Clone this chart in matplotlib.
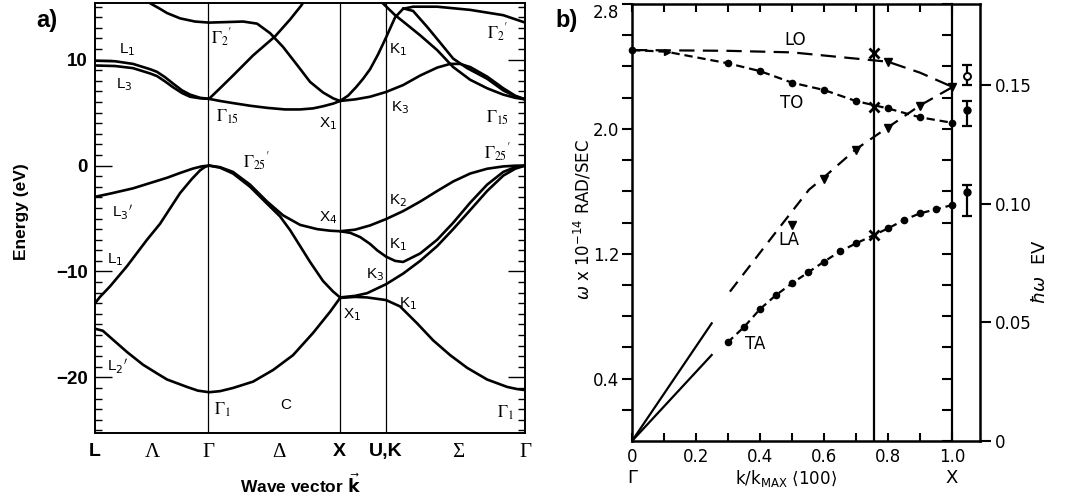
import numpy as np
import matplotlib
matplotlib.use("Agg")
import matplotlib.pyplot as plt
from matplotlib.ticker import MultipleLocator, FixedLocator, NullFormatter

plt.rcParams["lines.scale_dashes"] = False

# ------------------------------------------------------------------
# (a) Energy bands of diamond along L - Γ - X - U,K - Γ
#     k measured along the path in units of 2π/a
# ------------------------------------------------------------------
K_SYM = [0.0, 0.866, 1.866, 2.220, 3.281]            # L, Γ, X, U/K, Γ
K_TICKS = [0.0, 0.435, 0.866, 1.40, 1.866, 2.220, 2.77, 3.281]
K_TICK_LABELS = ["L", "Λ", "Γ", "Δ", "X", "U,K", "Σ", "Γ"]
E_RANGE = (-25.25, 15.35)

# valence bands
v1_k = [0.0, 0.060, 0.115, 0.244, 0.366, 0.470, 0.550, 0.702, 0.785, 0.870, 0.954, 1.053, 1.206,
        1.359, 1.511, 1.664, 1.794, 1.870, 1.985, 2.076, 2.221, 2.328, 2.458, 2.580, 2.710, 2.840,
        2.992, 3.145, 3.220, 3.282]
v1_E = [-15.4, -15.6, -16.2, -17.6, -18.8, -19.6, -20.2, -20.9, -21.25, -21.4, -21.3, -21.0, -20.4,
        -19.3, -17.9, -15.8, -13.8, -12.5, -12.4, -12.45, -12.7, -13.3, -14.9, -16.5, -17.9, -19.1,
        -20.2, -20.9, -21.1, -21.2]

v2_k = [0.0, 0.038, 0.115, 0.244, 0.397, 0.496, 0.649, 0.740, 0.802, 0.840, 0.870]
v2_E = [-13.0, -12.4, -11.4, -9.5, -7.0, -5.5, -2.6, -1.25, -0.45, -0.12, 0.0]

v3_k = [0.0, 0.115, 0.290, 0.420, 0.550, 0.649, 0.748, 0.817, 0.870]
v3_E = [-2.95, -2.65, -2.15, -1.65, -1.15, -0.70, -0.28, -0.07, 0.0]

# Γ25' -> X4 -> K2 -> Γ25'
v4_k = [0.870, 0.954, 1.053, 1.183, 1.313, 1.435, 1.565, 1.695, 1.794, 1.870, 1.985, 2.099,
        2.221, 2.351, 2.481, 2.611, 2.733, 2.863, 2.992, 3.115, 3.206, 3.282]
v4_E = [0.0, -0.15, -0.6, -1.8, -3.4, -4.7, -5.6, -6.0, -6.15, -6.2, -6.05, -5.65,
        -5.05, -4.3, -3.4, -2.4, -1.5, -0.75, -0.3, -0.08, -0.01, 0.0]

# Γ25' -> X1 -> K3 -> Γ25'
v5_k = [0.870, 0.954, 1.053, 1.183, 1.313, 1.412, 1.489, 1.565, 1.641, 1.740, 1.817, 1.870,
        1.985, 2.076, 2.221, 2.351, 2.481, 2.611, 2.733, 2.863, 2.992, 3.115, 3.206, 3.282]
v5_E = [0.0, -0.2, -0.75, -2.0, -3.6, -4.8, -6.1, -7.6, -9.1, -10.9, -11.9, -12.45,
        -12.3, -12.05, -11.2, -10.2, -9.0, -7.6, -6.0, -4.2, -2.4, -0.95, -0.3, 0.0]

# X4 -> K1 -> Γ25'
v6_k = [1.870, 1.947, 2.023, 2.099, 2.153, 2.221, 2.290, 2.351, 2.481, 2.611, 2.733, 2.863,
        2.992, 3.115, 3.206, 3.282]
v6_E = [-6.2, -6.35, -6.75, -7.4, -8.0, -8.6, -9.0, -9.1, -8.3, -7.0, -5.4, -3.5,
        -1.8, -0.6, -0.15, 0.0]

# conduction bands
c1_k = [0.0, 0.153, 0.290, 0.420, 0.473, 0.534, 0.595, 0.664, 0.725, 0.802, 0.870]
c1_E = [9.9, 9.85, 9.6, 9.1, 8.85, 8.35, 7.75, 7.1, 6.7, 6.4, 6.3]
c2_E = [9.45, 9.4, 9.2, 8.7, 8.45, 7.95, 7.4, 6.85, 6.5, 6.35, 6.3]

# Γ2' band: from above along Λ, through Γ2', down to X1
c3_k = [0.400, 0.420, 0.496, 0.550, 0.649, 0.763, 0.870, 1.008, 1.130, 1.237, 1.336, 1.435,
        1.542, 1.641, 1.740, 1.817, 1.870]
c3_E = [15.7, 15.33, 14.8, 14.4, 13.9, 13.6, 13.5, 13.55, 13.6, 13.4, 12.5, 11.2,
        9.5, 7.9, 6.9, 6.35, 6.1]

# Γ15 -> X1 (lower) and the steep branch leaving Γ15 upwards
c4_k = [0.870, 0.954, 1.053, 1.183, 1.313, 1.450, 1.565, 1.664, 1.740, 1.817, 1.870]
c4_E = [6.3, 6.1, 5.9, 5.65, 5.45, 5.3, 5.3, 5.4, 5.6, 5.85, 6.1]
c5_k = [0.870, 0.954, 1.053, 1.206, 1.374, 1.489, 1.573, 1.611]
c5_E = [6.3, 7.3, 8.5, 10.4, 12.2, 13.8, 15.1, 15.8]

# X1 -> K3 -> Γ15
c6_k = [1.870, 1.985, 2.099, 2.221, 2.351, 2.481, 2.611, 2.710, 2.786, 2.863, 2.992, 3.115,
        3.206, 3.282]
c6_E = [6.1, 6.25, 6.5, 6.95, 7.6, 8.5, 9.25, 9.6, 9.6, 9.3, 8.4, 7.3, 6.6, 6.25]

# X1 -> K1 -> Γ2'
c7_k = [1.870, 1.931, 1.992, 2.046, 2.099, 2.160, 2.221, 2.290, 2.351, 2.427, 2.611, 2.863,
        3.115, 3.282]
c7_E = [6.1, 6.6, 7.4, 8.2, 9.1, 10.5, 12.1, 14.0, 14.8, 15.0, 15.0, 14.7, 14.2, 13.5]

# two upper Σ branches ending in Γ15
c8_k = [2.160, 2.198, 2.290, 2.351, 2.481, 2.611, 2.733, 2.863, 2.992, 3.115, 3.206, 3.282]
c8_E = [15.8, 15.3, 14.2, 13.6, 12.3, 10.9, 9.3, 8.1, 7.3, 6.7, 6.4, 6.25]
c9_k = [2.351, 2.427, 2.534, 2.634, 2.733, 2.840, 2.992, 3.115, 3.206, 3.282]
c9_E = [14.85, 14.6, 13.1, 11.6, 10.1, 9.2, 8.2, 7.1, 6.55, 6.25]

bands = [(v1_k, v1_E), (v2_k, v2_E), (v3_k, v3_E), (v4_k, v4_E), (v5_k, v5_E),
         (v6_k, v6_E), (c1_k, c1_E), (c1_k, c2_E), (c3_k, c3_E), (c4_k, c4_E),
         (c5_k, c5_E), (c6_k, c6_E), (c7_k, c7_E), (c8_k, c8_E), (c9_k, c9_E)]

# ------------------------------------------------------------------
# (b) Phonon dispersion of diamond along (100)
# ------------------------------------------------------------------
HBAR_EV_S = 6.582e-16
lin_k = [0.0, 0.249]
lin_upper = [0.0, 0.754]
lin_lower = [0.0, 0.551]

lo_k = [0.0, 0.3, 0.5, 0.7, 0.8, 0.9, 1.0]
lo_w = [2.505, 2.50, 2.49, 2.45, 2.43, 2.36, 2.27]
lo_tri_k = [0.8]
lo_tri_w = [2.43]

to_k = [0.0, 0.108, 0.3, 0.4, 0.5, 0.6, 0.7, 0.8, 0.9, 1.0]
to_w = [2.505, 2.494, 2.42, 2.37, 2.296, 2.249, 2.178, 2.131, 2.074, 2.039]

la_k = [0.306, 0.454, 0.553, 0.6, 0.7, 0.8, 0.9, 1.0]
la_w = [0.957, 1.35, 1.61, 1.69, 1.87, 2.01, 2.15, 2.266]
la_tri_k = [0.5, 0.6, 0.7, 0.8, 0.9, 1.0]
la_tri_w = [1.384, 1.676, 1.864, 2.005, 2.146, 2.266]

ta_k = [0.30, 0.35, 0.40, 0.45, 0.50, 0.55, 0.60, 0.65, 0.70, 0.756, 0.80, 0.85, 0.90, 0.95, 1.0]
ta_w = [0.634, 0.73, 0.845, 0.935, 1.01, 1.08, 1.149, 1.215, 1.266, 1.32, 1.362, 1.416, 1.459,
        1.484, 1.512]

cross_k = [0.756, 0.756, 0.756]
cross_w = [2.484, 2.14, 1.32]

err_k = [1.047, 1.047, 1.047]
err_w = [2.338, 2.12, 1.597]
err_lo = [2.281, 2.018, 1.441]
err_hi = [2.409, 2.178, 1.640]

W_PX, H_PX = 1065, 499
fig = plt.figure(figsize=(W_PX / 100, H_PX / 100), dpi=100)

SANS = "Liberation Sans"
SERIF = "Liberation Serif"

# ---------------------------- panel (a) ----------------------------
axa = fig.add_axes([95 / W_PX, 1 - 433 / H_PX, 430 / W_PX, 430 / H_PX])
for k, E in bands:
    axa.plot(k, E, color="black", lw=1.9, solid_joinstyle="round", solid_capstyle="round")
for ks in K_SYM[1:4]:
    axa.axvline(ks, color="black", lw=0.9)
axa.set_xlim(K_SYM[0], K_SYM[-1])
axa.set_ylim(*E_RANGE)
for s in axa.spines.values():
    s.set_linewidth(1.4)

axa.yaxis.set_major_locator(FixedLocator([-20, -10, 0, 10]))
axa.yaxis.set_minor_locator(MultipleLocator(1))
axa.tick_params(axis="y", which="both", direction="in", left=True, right=True, width=1.0)
axa.tick_params(axis="y", which="major", length=12, pad=5)
axa.tick_params(axis="y", which="minor", length=5)
axa.set_yticks([-20, -10, 0, 10])
axa.set_yticklabels(["\u221220", "\u221210", "0", "10"], fontfamily=SANS,
                    fontweight="bold", fontsize=13.5)

axa.set_xticks(K_TICKS)
axa.set_xticklabels(K_TICK_LABELS)
axa.tick_params(axis="x", length=0, pad=7)
for lab in axa.get_xticklabels():
    if lab.get_text() in ("L", "X", "U,K"):
        lab.set_fontfamily(SANS)
        lab.set_fontweight("bold")
        lab.set_fontsize(14)
    else:
        lab.set_fontfamily(SERIF)
        lab.set_fontsize(15)

axa.text(-0.17, 0.514, "Energy (eV)", transform=axa.transAxes, rotation=90,
         ha="center", va="center", fontfamily=SANS, fontweight="bold", fontsize=12.5)
axa.text(0.477, -0.118, r"Wave vector $\vec{\mathbf{k}}$", transform=axa.transAxes,
         ha="center", va="center", fontfamily=SANS, fontweight="bold", fontsize=12.5,
         math_fontfamily="dejavusans")

point_labels = [
    (0.244, 10.9, r"L$_1$"), (0.221, 7.6, r"L$_3$"), (0.206, -4.4, r"L$_3{}^{\prime}$"),
    (0.153, -8.9, r"L$_1$"), (0.168, -19.0, r"L$_2{}^{\prime}$"),
    (1.779, 4.0, r"X$_1$"), (1.779, -4.9, r"X$_4$"), (1.962, -14.1, r"X$_1$"),
    (2.313, 10.9, r"K$_1$"), (2.328, 5.5, r"K$_3$"), (2.313, -3.3, r"K$_2$"),
    (2.313, -7.5, r"K$_1$"), (2.137, -10.3, r"K$_3$"), (2.389, -13.0, r"K$_1$"),
    (1.458, -22.6, "C"),
]
for x, y, s in point_labels:
    axa.text(x, y, s, ha="center", va="center", fontfamily=SANS, fontsize=11,
             math_fontfamily="dejavusans")

gamma_labels = [
    (0.969, 12.1, r"$\Gamma_{2}{}^{\prime}$"), (1.008, 4.6, r"$\Gamma_{15}$"),
    (1.237, 0.4, r"$\Gamma_{25}{}^{\prime}$"), (0.969, -23.1, r"$\Gamma_{1}$"),
    (3.069, 12.5, r"$\Gamma_{2}{}^{\prime}$"), (3.069, 4.5, r"$\Gamma_{15}$"),
    (3.069, 1.2, r"$\Gamma_{25}{}^{\prime}$"), (3.130, -23.3, r"$\Gamma_{1}$"),
]
for x, y, s in gamma_labels:
    axa.text(x, y, s, ha="center", va="center", fontsize=12, math_fontfamily="stix")

fig.text(47 / W_PX, 1 - 20 / H_PX, "a)", ha="center", va="center", fontfamily=SANS,
         fontweight="bold", fontsize=17)

# ---------------------------- panel (b) ----------------------------
FONT_B = "DejaVu Sans"
axb = fig.add_axes([632 / W_PX, 1 - 441 / H_PX, 348 / W_PX, 437 / H_PX])
axb.set_xlim(0, 1.0875)
axb.set_ylim(0, 2.8)
for s in axb.spines.values():
    s.set_linewidth(1.8)

axb.plot(lin_k, lin_upper, color="black", lw=1.6)
axb.plot(lin_k, lin_lower, color="black", lw=1.6)

axb.plot(lo_k, lo_w, color="black", lw=1.6, dashes=(11, 6))
axb.plot(to_k, to_w, color="black", lw=1.6, dashes=(6, 3.5))
axb.plot(la_k, la_w, color="black", lw=1.6, dashes=(9, 6))
axb.plot(ta_k, ta_w, color="black", lw=1.6, dashes=(5, 3.5))

axb.plot(to_k[2:], to_w[2:], ls="none", marker="o", ms=4.5, color="black")
axb.plot(to_k[:1], to_w[:1], ls="none", marker="o", ms=4.5, color="black", clip_on=False)
axb.plot(to_k[1:2], to_w[1:2], ls="none", marker=">", ms=4, color="black")
axb.plot([k for k in ta_k if k != 0.756], [w for k, w in zip(ta_k, ta_w) if k != 0.756],
         ls="none", marker="o", ms=4.5, color="black")
axb.plot(la_tri_k, la_tri_w, ls="none", marker="v", ms=6, color="black")
axb.plot(lo_tri_k, lo_tri_w, ls="none", marker="v", ms=6, color="black")
axb.plot(cross_k, cross_w, ls="none", marker="x", ms=7, mew=2.0, color="black")

axb.axvline(0.756, color="black", lw=1.6)
axb.errorbar(err_k, err_w,
             yerr=[np.subtract(err_w, err_lo), np.subtract(err_hi, err_w)],
             fmt="none", ecolor="black", elinewidth=1.6, capsize=3.5, capthick=1.6)
axb.plot(err_k[:1], err_w[:1], ls="none", marker="o", ms=5, mfc="white", mec="black", mew=1.4)
axb.plot(err_k[1:], err_w[1:], ls="none", marker="o", ms=5, color="black")

# frequency scale repeated on the X line
sec = axb.secondary_yaxis(1.0, transform=axb.transData)
sec.yaxis.set_major_locator(MultipleLocator(0.2))
sec.yaxis.set_major_formatter(NullFormatter())
sec.tick_params(direction="in", length=7, width=1.5)
sec.spines["right"].set_linewidth(1.6)
for side in ("left", "top", "bottom"):
    if side in sec.spines:
        sec.spines[side].set_visible(False)

axb.xaxis.set_major_locator(FixedLocator([0, 0.2, 0.4, 0.6, 0.8, 1.0]))
axb.xaxis.set_minor_locator(FixedLocator([0.1, 0.3, 0.5, 0.7, 0.9]))
axb.set_xticklabels(["0", "0.2", "0.4", "0.6", "0.8", "1.0"], fontfamily=FONT_B, fontsize=12)
axb.tick_params(axis="x", which="both", direction="in", top=True, bottom=True,
                length=6, width=1.5, pad=5)

w_ticks = [0.2, 0.4, 0.6, 0.8, 1.0, 1.2, 1.4, 1.6, 1.8, 2.0, 2.2, 2.4, 2.6, 2.8]
w_labels = {0.4: "0.4", 1.2: "1.2", 2.0: "2.0", 2.8: "2.8"}
axb.set_yticks(w_ticks)
axb.set_yticklabels([w_labels.get(round(t, 1), "") for t in w_ticks], fontfamily=FONT_B,
                    fontsize=12)
axb.tick_params(axis="y", which="both", direction="out", length=7, width=1.5, pad=2,
                right=False)
# keep the topmost label inside the figure
axb.get_yticklabels()[-1].set_verticalalignment("top")

axe = axb.twinx()
axe.set_ylim(0, 2.8e14 * HBAR_EV_S)
axe.set_yticks([0, 0.05, 0.10, 0.15])
axe.set_yticklabels(["0", "0.05", "0.10", "0.15"], fontfamily=FONT_B, fontsize=12)
axe.tick_params(axis="y", direction="out", length=8, width=1.5, pad=3)
for s in axe.spines.values():
    s.set_visible(False)

axb.text(0.48, -0.085, r"k/k$_{\rm MAX}$ $\langle$100$\rangle$", transform=axb.get_xaxis_transform(),
         ha="center", va="center", fontfamily=FONT_B, fontsize=12)
axb.text(0.0, -0.085, "\u0393", transform=axb.get_xaxis_transform(), ha="center",
         va="center", fontfamily=FONT_B, fontsize=13)
axb.text(1.0, -0.085, "X", transform=axb.get_xaxis_transform(), ha="center",
         va="center", fontfamily=FONT_B, fontsize=13)

axb.text(-0.141, 0.506, r"$\omega$ x 10$^{-14}$ RAD/SEC", transform=axb.transAxes, rotation=90,
         ha="center", va="center", fontfamily=FONT_B, fontsize=12)
axb.text(1.172, 0.387, r"$\hbar\omega$  EV", transform=axb.transAxes, rotation=90,
         ha="center", va="center", fontfamily=FONT_B, fontsize=13)

for x, y, s in [(0.51, 2.57, "LO"), (0.50, 2.165, "TO"), (0.49, 1.29, "LA"), (0.385, 0.62, "TA")]:
    axb.text(x, y, s, ha="center", va="center", fontfamily=FONT_B, fontsize=12)

fig.text(567 / W_PX, 1 - 20 / H_PX, "b)", ha="center", va="center", fontfamily=SANS,
         fontweight="bold", fontsize=17)

fig.savefig("out.png", dpi=100)
